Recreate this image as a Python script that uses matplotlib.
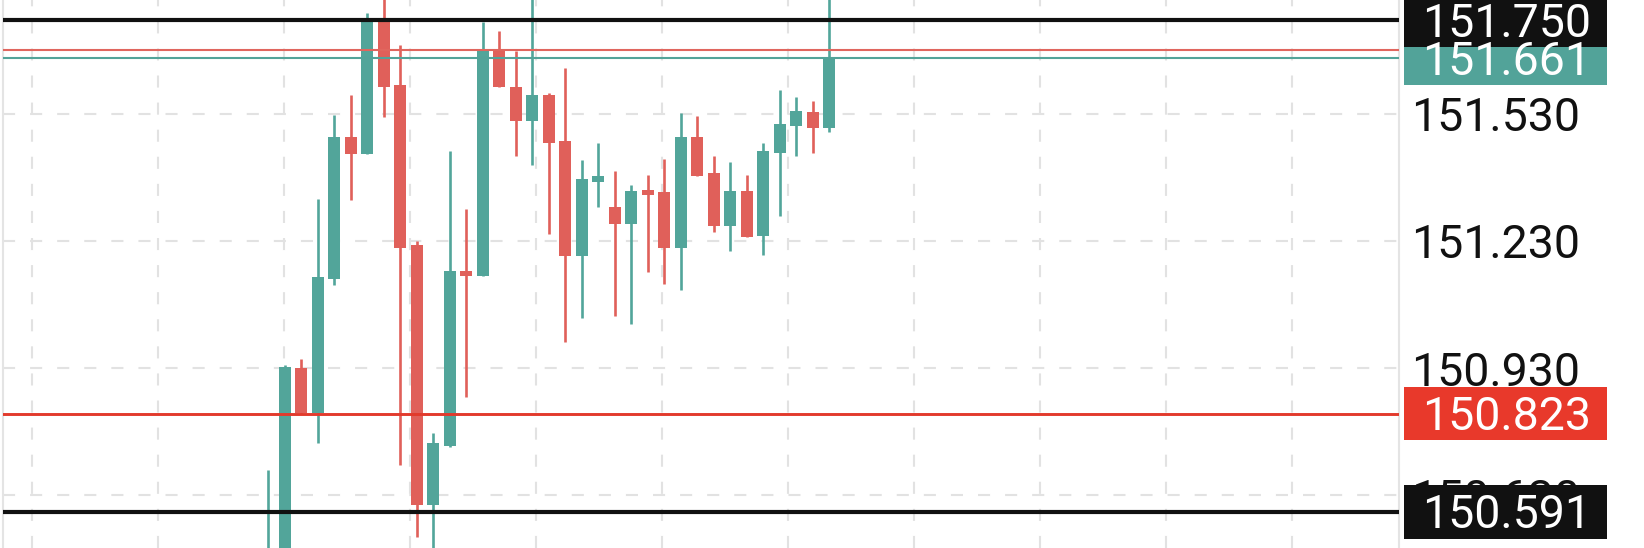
import numpy as np
import matplotlib.pyplot as plt
from matplotlib.patches import Rectangle
from matplotlib.transforms import blended_transform_factory

# candle data (oldest -> newest)
opens = [150.440, 150.490, 150.931, 150.825, 151.140, 151.474, 151.434, 151.750, 151.598,
         151.221, 150.607, 150.747, 151.159, 151.147, 151.680, 151.592, 151.512, 151.574,
         151.466, 151.194, 151.370, 151.311, 151.270, 151.350, 151.345, 151.214, 151.474,
         151.390, 151.264, 151.348, 151.241, 151.437, 151.501, 151.534, 151.497]
highs = [150.689, 150.937, 150.951, 151.330, 151.528, 151.574, 151.767, 151.820, 151.691,
         151.229, 150.777, 151.442, 151.305, 151.746, 151.725, 151.678, 151.820, 151.579,
         151.637, 151.420, 151.460, 151.396, 151.361, 151.386, 151.424, 151.531, 151.524,
         151.431, 151.415, 151.386, 151.460, 151.586, 151.570, 151.559, 151.820]
lows = [150.400, 150.450, 150.823, 150.754, 151.126, 151.326, 151.434, 151.522, 150.702,
        150.532, 150.480, 150.743, 150.861, 151.147, 151.593, 151.431, 151.410, 151.246,
        150.992, 151.048, 151.310, 151.052, 151.033, 151.157, 151.128, 151.115, 151.384,
        151.250, 151.207, 151.239, 151.196, 151.288, 151.431, 151.437, 151.486]
closes = [150.490, 150.932, 150.825, 151.144, 151.474, 151.434, 151.750, 151.593, 151.214,
          150.607, 150.753, 151.159, 151.147, 151.680, 151.593, 151.512, 151.574, 151.462,
          151.194, 151.375, 151.382, 151.270, 151.348, 151.338, 151.214, 151.474, 151.384,
          151.264, 151.348, 151.239, 151.442, 151.505, 151.536, 151.497, 151.661]

# horizontal price levels
level_prices = [151.750, 151.681, 151.661, 150.823, 150.591]
level_colors = ['#111111', '#e0665e', '#52a399', '#e23a2c', '#111111']
level_widths = [3.0, 1.5, 1.5, 2.1, 3.0]

# tagged levels on the price scale (drawn in this order)
tag_prices = [151.661, 151.750, 150.823, 150.591]
tag_texts = ['151.661', '151.750', '150.823', '150.591']
tag_colors = ['#52a399', '#111111', '#e8392b', '#111111']

tick_prices = [151.530, 151.230, 150.930, 150.630]
tick_labels = ['151.530', '151.230', '150.930', '150.630']

UP = '#52a59a'
DOWN = '#e0605a'
GRID = '#e2e2e2'

fig = plt.figure(figsize=(16.44, 5.48), dpi=100)
ax = fig.add_axes([3 / 1644, 0, 1396 / 1644, 1])

x = np.arange(len(opens))
o = np.array(opens)
c = np.array(closes)
colors = [UP if cc >= oo else DOWN for oo, cc in zip(o, c)]

# wicks then bodies
ax.vlines(x, lows, highs, colors=colors, linewidth=1.9, zorder=3)
ax.bar(x, np.abs(c - o), bottom=np.minimum(o, c), width=0.71, color=colors, zorder=3)

for p, col, lw in zip(level_prices, level_colors, level_widths):
    ax.axhline(p, color=col, linewidth=lw, zorder=4)

ax.set_xlim(-16.08, 68.53)
ax.set_ylim(150.506, 151.798)

# grid
ax.set_xticks(np.arange(-14.34, 68.5, 7.636))
ax.set_yticks(tick_prices)
ax.grid(True, color=GRID, linewidth=1.5, linestyle=(0, (5.8, 7.2)), zorder=0)
ax.tick_params(axis='x', length=0, labelbottom=False)
ax.yaxis.tick_right()
ax.tick_params(axis='y', length=0, pad=9)
ax.set_yticklabels(tick_labels, fontsize=33.5, fontfamily='Roboto', color='#111111')

for side in ['top', 'bottom']:
    ax.spines[side].set_visible(False)
for side in ['left', 'right']:
    ax.spines[side].set_color('#e4e4e4')
    ax.spines[side].set_linewidth(1.5)

# price tags on the right scale
trans = blended_transform_factory(ax.transAxes, ax.transData)
box_h = 0.127
box_x0 = 1.0036
box_w = 0.1456
half_cap = 0.039  # half the digit height, in price units
for p, txt, col in zip(tag_prices, tag_texts, tag_colors):
    ax.add_patch(Rectangle((box_x0, p - box_h / 2), box_w, box_h, transform=trans,
                           facecolor=col, edgecolor='none', clip_on=False, zorder=6))
    ax.text(box_x0 + box_w / 2 + 0.001, p - half_cap, txt, transform=trans, ha='center',
            va='baseline', fontsize=33.5, fontfamily='Roboto', color='white',
            clip_on=False, zorder=7)

fig.savefig('out.png', dpi=100, facecolor='white')
